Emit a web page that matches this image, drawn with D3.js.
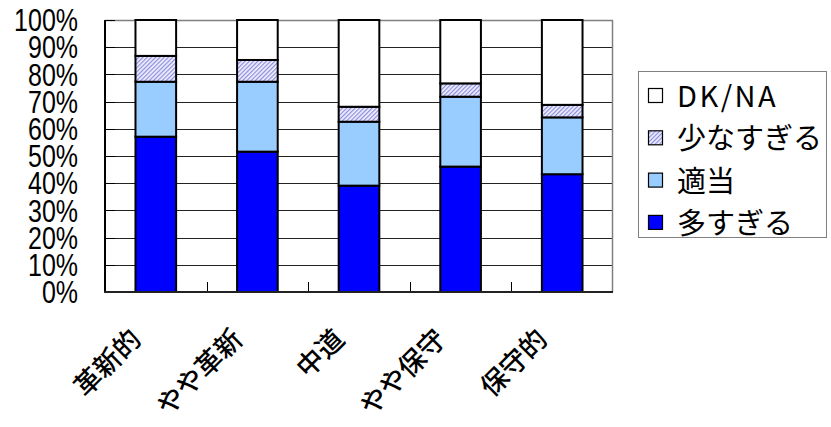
<!DOCTYPE html>
<html><head><meta charset="utf-8">
<script src="https://cdn.jsdelivr.net/npm/d3@7"></script>
<style>body{margin:0;background:#fff;}svg{display:block;}</style>
</head><body>
<script>
const categories = ["革新的","やや革新","中道","やや保守","保守的"];
const seriesNames = ["多すぎる","適当","少なすぎる","DK/NA"];
const tooMany   = [57.1, 51.6, 39.1, 46.1, 43.3];
const adequate  = [20.2, 25.7, 23.5, 25.7, 20.9];
const tooFew    = [9.5, 8.0, 5.5, 4.9, 4.6];
const dkna      = [13.2, 14.7, 31.9, 23.3, 31.2];
const yTicks = [0,10,20,30,40,50,60,70,80,90,100];

const W = 831, H = 427;
const svg = d3.select("body").append("svg").attr("width", W).attr("height", H);
const defs = svg.append("defs");
const pat = defs.append("pattern").attr("id","hatch").attr("patternUnits","userSpaceOnUse")
  .attr("width",3).attr("height",3).attr("patternTransform","rotate(45)");
pat.append("rect").attr("width",3).attr("height",3).attr("fill","#f0f0ff");
pat.append("rect").attr("width",1.2).attr("height",3).attr("fill","#8c8cdc");

const L = 105, R = 613, T = 20, B = 292;
const x = d3.scaleBand().domain(categories).range([L,R]).paddingInner(0.6).paddingOuter(0.3);
const xb = d3.scaleBand().domain(categories).range([L,R]).padding(0);
const y = d3.scaleLinear().domain([0,100]).range([B,T]);

const colors = ["#0000ff","#99ccff","url(#hatch)","#ffffff"];
const data = categories.map((c,i)=>({cat:c, "多すぎる":tooMany[i], "適当":adequate[i], "少なすぎる":tooFew[i], "DK/NA":dkna[i]}));
const stack = d3.stack().keys(seriesNames)(data);

// gridlines
svg.append("g").selectAll("line").data(yTicks.filter(d=>d>0 && d<100)).join("line")
  .attr("x1",L).attr("x2",R).attr("y1",d=>Math.round(y(d))+0.5).attr("y2",d=>Math.round(y(d))+0.5)
  .attr("stroke","#222").attr("stroke-width",1);
// plot border top/right
svg.append("path").attr("d",`M${L},${T+0.5}H${R-0.5}V${B}`).attr("fill","none").attr("stroke","#808080").attr("stroke-width",1.5);

// bars
svg.append("g").selectAll("g").data(stack).join("g")
  .attr("fill",(d,i)=>colors[i])
  .selectAll("rect").data(d=>d).join("rect")
  .attr("x",d=>x(d.data.cat)).attr("width",x.bandwidth())
  .attr("y",d=>y(d[1])).attr("height",d=>y(d[0])-y(d[1]))
  .attr("stroke","#000").attr("stroke-width",2);

// y axis ticks (inside) and axis line
svg.append("g").selectAll("line").data(yTicks).join("line")
  .attr("x1",L).attr("x2",L+10).attr("y1",d=>Math.round(y(d))+0.5).attr("y2",d=>Math.round(y(d))+0.5)
  .attr("stroke","#000").attr("stroke-width",1);
svg.append("line").attr("x1",L).attr("x2",L).attr("y1",T).attr("y2",B+1).attr("stroke","#000").attr("stroke-width",2);
// x axis ticks
const bounds = categories.map(c=>xb(c)).concat([R]);
svg.append("g").selectAll("line").data(bounds.slice(1,-1)).join("line")
  .attr("x1",d=>Math.round(d)+0.5).attr("x2",d=>Math.round(d)+0.5).attr("y1",B-10).attr("y2",B)
  .attr("stroke","#000").attr("stroke-width",1);
svg.append("line").attr("x1",L-1).attr("x2",R).attr("y1",B).attr("y2",B).attr("stroke","#222").attr("stroke-width",2);

// y labels
svg.append("g").selectAll("g").data(yTicks).join("g")
  .attr("transform",d=>`translate(78,${y(d)}) scale(1,1.25)`)
  .append("text").attr("text-anchor","end").attr("y",9)
  .attr("font-family","'Liberation Sans', Arial, sans-serif").attr("font-size",25).attr("fill","#000")
  .text(d=>d+"%");

// x labels
svg.append("g").selectAll("text").data(categories).join("text")
  .attr("transform",d=>`translate(${xb(d)+xb.bandwidth()/2-13},341) rotate(-45)`)
  .attr("text-anchor","end")
  .attr("font-family","'Noto Sans CJK JP', sans-serif").attr("font-size",27).attr("font-weight",500).attr("fill","#000")
  .text(d=>d);

// legend
const lg = svg.append("g");
lg.append("rect").attr("x",638.5).attr("y",71.5).attr("width",188).attr("height",166)
  .attr("fill","#fff").attr("stroke","#808080").attr("stroke-width",1);
const legendOrder = seriesNames.map((n,i)=>({n,c:colors[i]})).reverse();
const rows = lg.selectAll("g").data(legendOrder).join("g")
  .attr("transform",(d,i)=>`translate(648,${95.5+i*42.3})`);
rows.append("rect").attr("x",0.5).attr("y",-7).attr("width",14).attr("height",14)
  .attr("fill",d=>d.c).attr("stroke","#000").attr("stroke-width",1.2);
rows.append("text").attr("x",29).attr("y",11.5)
  .attr("font-family","'Noto Sans CJK JP', sans-serif").attr("font-size",29).attr("fill","#000")
  .attr("letter-spacing",d=>d.n==="DK/NA"?2.5:0)
  .text(d=>d.n);
</script>
</body></html>
